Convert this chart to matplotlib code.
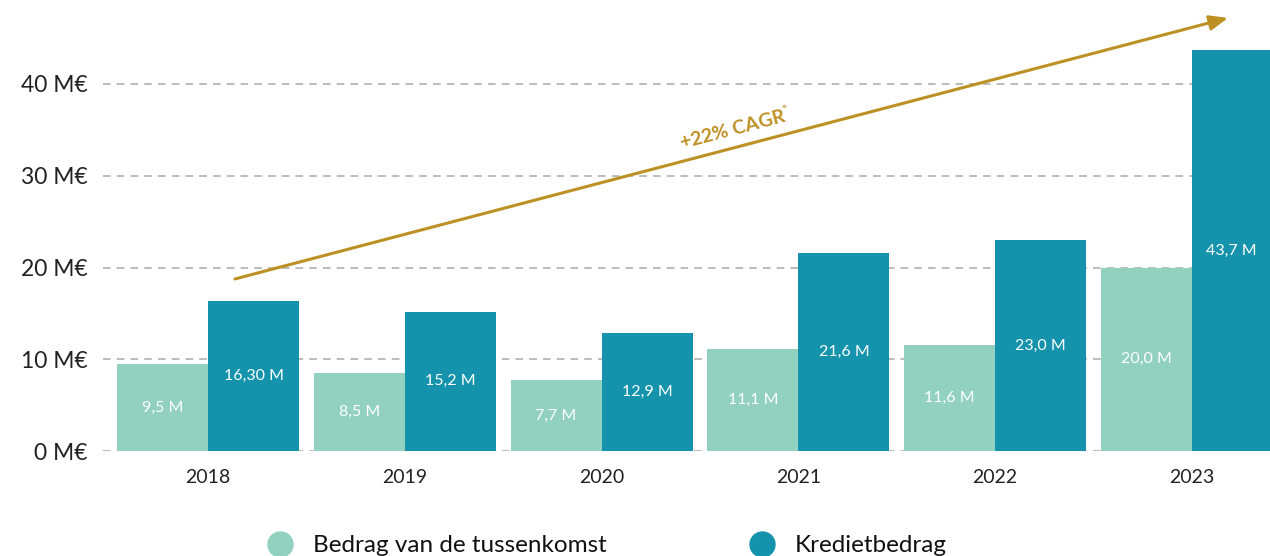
import matplotlib
matplotlib.use("Agg")
import matplotlib.pyplot as plt
from matplotlib.lines import Line2D
import numpy as np

years = ["2018", "2019", "2020", "2021", "2022", "2023"]
tussenkomst = [9.5, 8.5, 7.7, 11.1, 11.6, 20.0]
krediet = [16.30, 15.2, 12.9, 21.6, 23.0, 43.7]
tussen_labels = ["9,5 M", "8,5 M", "7,7 M", "11,1 M", "11,6 M", "20,0 M"]
krediet_labels = ["16,30 M", "15,2 M", "12,9 M", "21,6 M", "23,0 M", "43,7 M"]
yticks = [0, 10, 20, 30, 40]
ytick_labels = ["0 M€", "10 M€", "20 M€", "30 M€", "40 M€"]
series_names = ["Bedrag van de tussenkomst", "Kredietbedrag"]
cagr_text = "+22% CAGR$^{*}$"

LIGHT = "#92D1BF"
DARK = "#1593AD"
GOLD = "#BD9023"

plt.rcParams['font.family'] = ['Lato', 'DejaVu Sans']
plt.rcParams['mathtext.fontset'] = 'custom'
plt.rcParams['mathtext.rm'] = 'Lato'
plt.rcParams['mathtext.it'] = 'Lato'
plt.rcParams['mathtext.bf'] = 'Lato:bold'

W, H = 1270, 556
fig = plt.figure(figsize=(W / 100, H / 100), dpi=100)
ax = fig.add_axes([103 / W, (H - 451) / H, 1 - 103 / W, 451 / H])

x = np.arange(len(years))
bw = 0.4625
b1 = ax.bar(x - bw / 2, tussenkomst, bw, color=LIGHT, zorder=3)
b2 = ax.bar(x + bw / 2, krediet, bw, color=DARK, zorder=3)
ax.bar_label(b1, labels=tussen_labels, label_type='center', color='white', fontsize=11.5)
ax.bar_label(b2, labels=krediet_labels, label_type='center', color='white', fontsize=11.5)

ax.set_xlim((103 - 208) / 196.8, (1270 - 208) / 196.8)
ax.set_ylim(0, 451 / 9.175)
ax.set_xticks(x)
ax.set_xticklabels(years, fontsize=14, color='#222222')
ax.set_yticks(yticks)
ax.set_yticklabels(ytick_labels, fontsize=16.5, color='#222222')
ax.tick_params(axis='both', length=0)
ax.tick_params(axis='y', pad=11)
ax.tick_params(axis='x', pad=13)
for s in ax.spines.values():
    s.set_visible(False)
ax.yaxis.grid(True, color='#AAAAAA', linestyle=(0, (5, 4)), linewidth=1.1, zorder=0)
ax.set_axisbelow(True)

# CAGR arrow
x0, y0 = 0.137, 18.75
x1, y1 = 5.183, 47.2
ax.annotate("", xy=(x1, y1), xytext=(x0, y0),
            arrowprops=dict(arrowstyle="-|>,head_length=1.1,head_width=0.45",
                            color=GOLD, lw=2.2, shrinkA=0, shrinkB=0),
            annotation_clip=False, zorder=5)
ang = np.degrees(np.arctan((279 - 18) / (1228 - 235)))
ax.text(2.68, 35.2, cagr_text, color=GOLD, fontsize=14, fontweight='bold',
        rotation=ang, rotation_mode='anchor', ha='center', va='center', zorder=6)

# legend (manual placement to match the reference)
for mx, c, name in zip((280, 762), (LIGHT, DARK), series_names):
    fig.add_artist(Line2D([mx / W], [1 - 544 / H], marker='o', linestyle='none',
                          markersize=18, markerfacecolor=c, markeredgecolor=c,
                          transform=fig.transFigure))
    fig.text((mx + 33) / W, 1 - 545 / H, name, fontsize=17.5, color='#111111',
             ha='left', va='center')

fig.savefig("out.png", dpi=100)
